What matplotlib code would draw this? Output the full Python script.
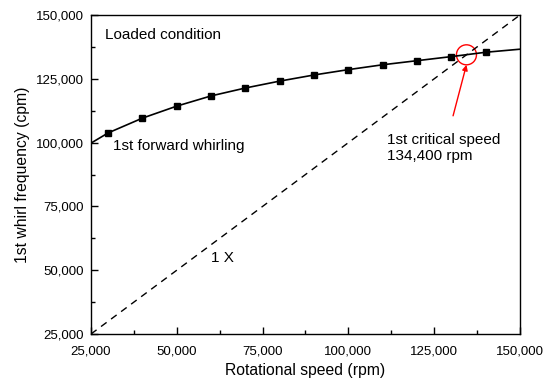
import numpy as np
import matplotlib.pyplot as plt
from matplotlib.ticker import FuncFormatter, MultipleLocator
from matplotlib.patches import Ellipse

plt.rcParams['font.family'] = ['Liberation Sans', 'DejaVu Sans']

# whirl curve (line runs 25k..150k, markers at 30k..140k)
speed = [25000, 30000, 40000, 50000, 60000, 70000, 80000, 90000,
         100000, 110000, 120000, 130000, 140000, 150000]
whirl = [99800, 103800, 109600, 114300, 118300, 121400, 124100, 126500,
         128600, 130500, 132100, 133700, 135400, 136600]
one_x = [25000, 150000]
crit = 134400

fig = plt.figure(figsize=(5.51, 3.83), dpi=100)
ax = fig.add_axes([91/551, 1-334/383, 429/551, 319/383])

ax.plot(speed, whirl, color='black', lw=1.2, marker='s', ms=3.8,
        markevery=list(range(1, len(speed)-1)))
ax.plot(one_x, one_x, color='black', lw=1.0, ls=(0, (5, 4)))

ax.set_xlim(25000, 150000)
ax.set_ylim(25000, 150000)
ax.xaxis.set_major_locator(MultipleLocator(25000))
ax.yaxis.set_major_locator(MultipleLocator(25000))
ax.xaxis.set_minor_locator(MultipleLocator(12500))
ax.yaxis.set_minor_locator(MultipleLocator(12500))
fmt = FuncFormatter(lambda v, p: f'{int(v):,}')
ax.xaxis.set_major_formatter(fmt)
ax.yaxis.set_major_formatter(fmt)
ax.tick_params(which='both', direction='in', labelsize=9.5, width=1)
ax.tick_params(which='major', length=5)
ax.tick_params(which='minor', length=3)
ax.tick_params(axis='x', which='major', pad=8)
ax.tick_params(axis='y', which='major', pad=5)
for s in ax.spines.values():
    s.set_linewidth(1.0)

ax.set_xlabel('Rotational speed (rpm)', fontsize=11.3, labelpad=4)
ax.set_ylabel('1st whirl frequency (cpm)', fontsize=11.3, labelpad=4)

ax.text(29000, 142300, 'Loaded condition', fontsize=11, va='center')
ax.text(31500, 98500, '1st forward whirling', fontsize=11, va='center')
ax.text(60000, 54800, '1 X', fontsize=11, va='center')
ax.text(111200, 98000, '1st critical speed\n134,400 rpm', fontsize=11,
        va='center', linespacing=1.2)

# red circle and arrow at crossing
rx = 10 / 3.432 * 1000
ry = 10 / 2.552 * 1000
ax.add_patch(Ellipse((crit, crit), 2*rx, 2*ry, fill=False, ec='red', lw=1.0))
ax.annotate('', xy=(crit, crit - ry), xytext=(130500, 110500),
            arrowprops=dict(arrowstyle='-|>', color='red', lw=1.0,
                            mutation_scale=8, shrinkA=0, shrinkB=0))

fig.savefig('out.png', dpi=100)
